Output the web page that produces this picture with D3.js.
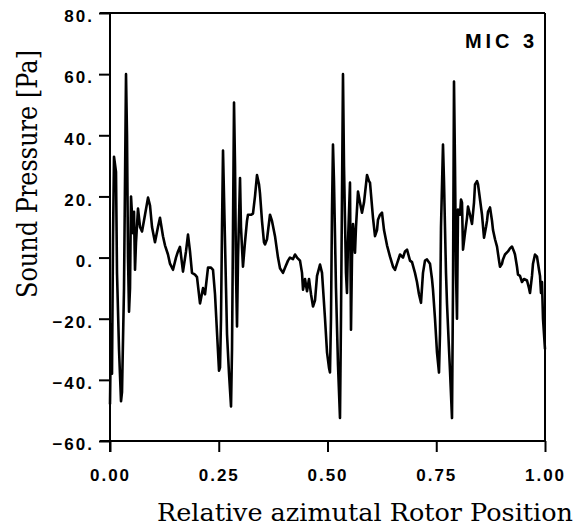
<!DOCTYPE html>
<html>
<head>
<meta charset="utf-8">
<script src="https://cdn.jsdelivr.net/npm/d3@7"></script>
<style>
  body { margin: 0; background: #fff; }
  svg { display: block; }
  .tick text { font-family: "Liberation Sans", Arial, sans-serif; font-weight: bold; font-size: 17px; letter-spacing: 2px; fill: #000; }
  .tick line { stroke: #000; stroke-width: 2; }
</style>
</head>
<body>
<script>
// rotor position (fraction of one revolution)
const position = [
  0, 0.0023, 0.0046, 0.0069, 0.0092, 0.0138, 0.0161, 0.0207, 0.0253, 0.0276,
  0.0322, 0.0345, 0.0368, 0.0391, 0.0414, 0.0437, 0.046, 0.0483, 0.0529, 0.0552,
  0.0575, 0.0598, 0.0644, 0.069, 0.0736, 0.0805, 0.0874, 0.092, 0.0966, 0.1034,
  0.1103, 0.1149, 0.1218, 0.1264, 0.1333, 0.1379, 0.1448, 0.1517, 0.1563, 0.1609,
  0.1678, 0.1747, 0.1793, 0.1839, 0.1885, 0.1954, 0.2, 0.2069, 0.2138, 0.2184,
  0.2253, 0.2322, 0.2368, 0.2414, 0.246, 0.2506, 0.2529, 0.2552, 0.2575, 0.2598,
  0.2621, 0.2667, 0.269, 0.2736, 0.2782, 0.2805, 0.2828, 0.2851, 0.2874, 0.2897,
  0.292, 0.2943, 0.2989, 0.3011, 0.3057, 0.3103, 0.3149, 0.3172, 0.3241, 0.3287,
  0.3333, 0.3379, 0.3425, 0.3448, 0.3494, 0.354, 0.3563, 0.3609, 0.3678, 0.3724,
  0.3793, 0.3862, 0.3908, 0.3977, 0.4023, 0.4092, 0.4138, 0.4207, 0.4253, 0.4299,
  0.4368, 0.4414, 0.4437, 0.4483, 0.4529, 0.4575, 0.4621, 0.4667, 0.4713, 0.4759,
  0.4828, 0.4874, 0.4897, 0.4943, 0.4989, 0.5034, 0.5057, 0.508, 0.5103, 0.5126,
  0.5149, 0.5195, 0.5241, 0.5287, 0.531, 0.5333, 0.5356, 0.5379, 0.5425, 0.5448,
  0.5471, 0.5517, 0.554, 0.5563, 0.5586, 0.5632, 0.5655, 0.5701, 0.5747, 0.5793,
  0.5839, 0.5908, 0.5954, 0.5977, 0.6046, 0.6092, 0.6138, 0.6161, 0.6207, 0.6253,
  0.6299, 0.6368, 0.6437, 0.6506, 0.6552, 0.6598, 0.6667, 0.6736, 0.6782, 0.6828,
  0.6897, 0.6943, 0.7011, 0.7057, 0.7103, 0.7149, 0.7195, 0.7241, 0.7287, 0.7356,
  0.7402, 0.7425, 0.7471, 0.7517, 0.7563, 0.7586, 0.7609, 0.7655, 0.7678, 0.7724,
  0.7747, 0.7793, 0.7816, 0.7862, 0.7885, 0.7908, 0.7931, 0.7954, 0.7977, 0.8,
  0.8046, 0.8069, 0.8092, 0.8115, 0.8161, 0.8207, 0.823, 0.8276, 0.8322, 0.8368,
  0.8391, 0.8437, 0.846, 0.8506, 0.8552, 0.8598, 0.8644, 0.8667, 0.869, 0.8736,
  0.8782, 0.8805, 0.8851, 0.8897, 0.8943, 0.8966, 0.9011, 0.9034, 0.908, 0.9149,
  0.9195, 0.9241, 0.9287, 0.931, 0.9356, 0.9379, 0.9425, 0.9471, 0.9517, 0.9586,
  0.9632, 0.9655, 0.9701, 0.9724, 0.977, 0.9816, 0.9862, 0.9885, 0.9908, 0.9931,
  0.9954, 1.0
];

// sound pressure [Pa], MIC 3
const pressure = [
  -48, -22, -38, 6, 33, 28, -5, -30, -47, -44,
  -10, 25, 60, 40, 0, -17.7, -10, 20, 8, 15,
  -4, 5, 16, 10, 8.5, 14, 19.6, 17, 10, 5,
  10, 13, 7, 4, 1, -2, -4, 0, 2, 3.5,
  -4.6, 2, 7.5, 2, -5, -5.6, -6.4, -15, -10, -12,
  -3.3, -3.3, -4, -12, -24.5, -37, -36, -20, 10, 35,
  20, -10, -25, -38, -48.7, -30, 10, 50.7, 30, -5,
  -22.5, 0, 26, 10, -3, 5, 12, 14, 14, 14.4,
  20, 27, 24, 21, 12, 5, 4.3, 6, 14, 12,
  7, 0, -3.5, -5, -3.3, -1, 0, -0.5, 1, 0,
  -1, -5, -10.5, -7, -11, -7, -12, -16, -14, -6,
  -2.3, -5, -10, -20, -31, -36, -37.6, -20, 15, 37,
  25, -10, -35, -52.5, -20, 20, 60, 30, -5, -11.6,
  5, 24.5, -23.6, 0, 11, 1.6, 10, 21.6, 18, 14.7,
  18, 27, 25, 24.5, 13, 7, 9, 12.4, 14, 14.7,
  9, 4, 0.3, -3, -4, -2, 1, 0, 2, 2.6,
  -1, -1.5, -5, -8, -12, -14.8, -5, -1, -0.6, -2,
  -7, -10.5, -20, -31, -37.6, -25, 10, 37, 25, -5,
  -15, -30, -37, -52.5, -10, 57.6, 30, -5, -20, 15.7,
  14, 19, 18, 2.6, 8, 13, 16.7, 14, 11, 18,
  23.9, 25, 24, 19, 14, 6.5, 10, 12, 15, 16.4,
  12, 9, 6, 3.6, -1, -3, -2, -0.6, 1, 2,
  3, 3.6, 2, 1, -3, -5.6, -6, -8, -7, -7.5,
  -10, -11.6, -6, -2, 1, 0.3, -4, -6, -11.6, -8,
  -20, -30
];

const xTicks = [0, 0.25, 0.5, 0.75, 1];
const yTicks = [-60, -40, -20, 0, 20, 40, 60, 80];

const width = 576;
const height = 526;
const margin = { top: 13, right: 31, bottom: 85, left: 110 };

const data = position.map((p, i) => ({ p: p, v: pressure[i] }));

const svg = d3.select("body")
  .append("svg")
  .attr("width", width)
  .attr("height", height);

const x = d3.scaleLinear()
  .domain([0, 1])
  .range([margin.left, width - margin.right]);

const y = d3.scaleLinear()
  .domain([-60, 80])
  .range([height - margin.bottom, margin.top]);

// axes
svg.append("g")
  .attr("transform", `translate(0,${y(-60)})`)
  .call(d3.axisBottom(x).tickValues(xTicks).tickFormat(d3.format(".2f")).tickSize(11).tickPadding(17))
  .call(g => g.select(".domain").remove());

svg.append("g")
  .attr("transform", `translate(${x(0)},0)`)
  .call(d3.axisLeft(y).tickValues(yTicks).tickFormat(d => d3.format(".0f")(d) + ".").tickSize(11).tickPadding(5))
  .call(g => g.select(".domain").remove())
  .call(g => g.selectAll("text").attr("dy", "0.52em"));

// frame
const frame = svg.append("g").attr("stroke", "#000").attr("stroke-width", 2).attr("fill", "none");
frame.append("line").attr("x1", x(0)).attr("x2", x(0)).attr("y1", y(80)).attr("y2", y(-60) + 11);
frame.append("line").attr("x1", x(0) - 10).attr("x2", x(1)).attr("y1", y(-60)).attr("y2", y(-60));
frame.append("line").attr("x1", x(0) - 10).attr("x2", x(1)).attr("y1", y(80)).attr("y2", y(80));
frame.append("line").attr("x1", x(1)).attr("x2", x(1)).attr("y1", y(80)).attr("y2", y(-60));

// signal
const line = d3.line()
  .x(d => x(d.p))
  .y(d => y(d.v));

svg.append("path")
  .datum(data)
  .attr("fill", "none")
  .attr("stroke", "#000")
  .attr("stroke-width", 2.6)
  .attr("stroke-linejoin", "round")
  .attr("d", line);

// labels
svg.append("text")
  .attr("x", 534)
  .attr("y", 48)
  .attr("text-anchor", "end")
  .attr("font-family", "Liberation Sans, Arial, sans-serif")
  .attr("font-weight", "bold")
  .attr("font-size", 20)
  .attr("textLength", 69)
  .attr("lengthAdjust", "spacing")
  .text("MIC 3");

svg.append("text")
  .attr("x", 157)
  .attr("y", 521)
  .attr("font-family", "DejaVu Serif, serif")
  .attr("font-size", 25)
  .attr("textLength", 416)
  .attr("lengthAdjust", "spacingAndGlyphs")
  .text("Relative azimutal Rotor Position");

svg.append("text")
  .attr("transform", "translate(37,298) rotate(-90)")
  .attr("font-family", "DejaVu Serif, serif")
  .attr("font-size", 28)
  .attr("textLength", 248)
  .attr("lengthAdjust", "spacingAndGlyphs")
  .text("Sound Pressure [Pa]");
</script>
</body>
</html>
